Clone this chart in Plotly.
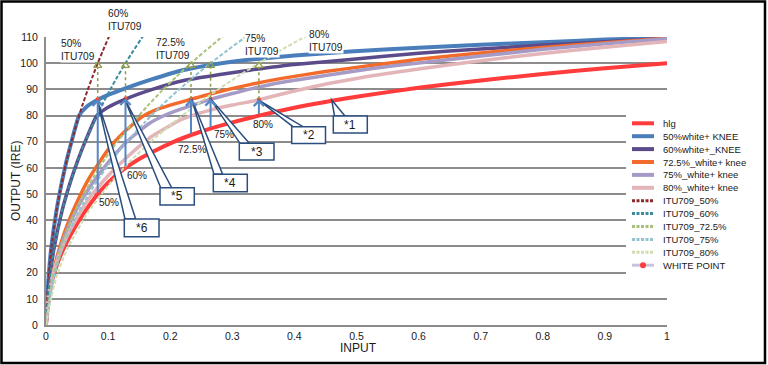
import plotly.graph_objects as go

# ---------------- data ----------------
hlg_x = [0, 0.001, 0.003, 0.005, 0.01, 0.02, 0.03, 0.04, 0.06, 0.0833, 0.1, 0.12, 0.15, 0.2, 0.25,
         0.3, 0.4, 0.5, 0.6, 0.7, 0.8, 0.9, 1.0]
hlg_y = [0, 5.5, 9.5, 12.2, 17.3, 24.5, 30.0, 34.6, 42.4, 50.0, 54.4, 58.6, 63.4, 69.4, 73.9,
         77.4, 83.0, 87.2, 90.6, 93.4, 95.9, 98.1, 100.0]

k50_x = [0, 0.0004, 0.0015, 0.0042, 0.0083, 0.0167, 0.025, 0.0333, 0.0417, 0.0533, 0.065, 0.0833,
         0.1, 0.13, 0.17, 0.22, 0.28, 0.33, 0.4, 0.49, 0.6, 0.7, 0.8, 0.9, 1.0]
k50_y = [0, 2.3, 8.1, 18.6, 29.1, 43.4, 54.0, 62.9, 70.6, 80.0, 83.3, 86.0,
         87.9, 90.6, 93.8, 97.3, 99.9, 101.4, 102.9, 104.5, 105.9, 107.0, 108.0, 109.0, 109.8]

k60_x = [0, 0.0006, 0.0023, 0.0064, 0.0128, 0.0256, 0.0384, 0.0512, 0.064, 0.0819, 0.1, 0.128,
         0.17, 0.22, 0.28, 0.33, 0.4, 0.49, 0.6, 0.7, 0.8, 0.9, 1.0]
k60_y = [0, 2.3, 8.1, 18.6, 29.1, 43.4, 54.0, 62.9, 70.6, 80.0, 83.2, 86.3,
         89.9, 93.3, 95.7, 97.4, 99.5, 101.4, 103.8, 105.4, 106.9, 108.2, 109.5]

k725_x = [0, 0.002, 0.006, 0.015, 0.03, 0.05, 0.07, 0.1, 0.125, 0.155, 0.175, 0.2, 0.2335,
          0.275, 0.33, 0.38, 0.45, 0.52, 0.6, 0.7, 0.8, 0.9, 1.0]
k725_y = [0, 4.5, 12.5, 23.5, 35.5, 47.0, 56.3, 67.0, 73.5, 79.6, 82.0, 84.0, 86.2,
          88.9, 91.9, 94.2, 96.8, 99.0, 101.5, 103.9, 106.0, 107.8, 109.5]

k75_x = [0, 0.002, 0.006, 0.015, 0.03, 0.05, 0.07, 0.1, 0.13, 0.165, 0.195, 0.23, 0.265,
         0.3, 0.33, 0.38, 0.45, 0.52, 0.6, 0.7, 0.8, 0.9, 1.0]
k75_y = [0, 4.0, 11.5, 22.5, 34.0, 44.5, 52.5, 62.0, 70.0, 76.8, 80.5, 83.5, 86.2,
         88.4, 90.2, 92.7, 95.3, 97.8, 100.1, 102.7, 105.3, 107.4, 109.3]

k80_x = [0, 0.002, 0.006, 0.015, 0.03, 0.05, 0.07, 0.1, 0.13, 0.17, 0.2194, 0.26, 0.3, 0.3428,
         0.4, 0.457, 0.52, 0.6, 0.7, 0.8, 0.9, 1.0]
k80_y = [0, 8.3, 14.0, 22.5, 32.0, 41.0, 48.5, 57.0, 64.0, 72.0, 78.6, 81.8, 84.0, 86.0,
         89.4, 92.3, 95.0, 97.8, 100.9, 103.7, 106.1, 108.3]

itu_y = [0, 2.3, 8.1, 18.6, 29.1, 43.4, 54.0, 62.9, 70.6, 77.4, 83.7, 89.5, 94.9, 100, 104.8, 109.4, 115.0]
itu50_x = [0, 0.0004, 0.0015, 0.0042, 0.0083, 0.0167, 0.025, 0.0333, 0.0417, 0.05, 0.0583, 0.0667,
           0.075, 0.0833, 0.0917, 0.1, 0.1108]
itu60_x = [0, 0.0006, 0.0023, 0.0064, 0.0128, 0.0256, 0.0384, 0.0512, 0.064, 0.0768, 0.0896, 0.1024,
           0.1152, 0.128, 0.1408, 0.1536, 0.1702]
itu725_x = [0, 0.0012, 0.0042, 0.0117, 0.0234, 0.0467, 0.0701, 0.0934, 0.1168, 0.1401, 0.1635, 0.1868,
            0.2102, 0.2335, 0.2569, 0.2802, 0.3106]
itu75_x = [0, 0.0013, 0.0048, 0.0133, 0.0265, 0.053, 0.0795, 0.106, 0.1325, 0.159, 0.1855, 0.212,
           0.2385, 0.265, 0.2915, 0.318, 0.3525]
itu80_x = [0, 0.0017, 0.0062, 0.0171, 0.0343, 0.0686, 0.1028, 0.1371, 0.1714, 0.2057, 0.24, 0.2742,
           0.3085, 0.3428, 0.3771, 0.4114, 0.4559]

# white points
wp_labels = ["50%", "60%", "72.5%", "75%", "80%"]
wp_x = [0.0833, 0.128, 0.2335, 0.265, 0.3428]
wp_hlg = [50, 60, 72.5, 75, 80]
wp_knee = [86.3, 86.6, 86.3, 86.4, 86.2]
wp_itu = [100, 100, 100, 100, 100]

series_names = ["hlg", "50%white+ KNEE", "60%white+_KNEE", "72.5%_white+ knee", "75%_white+ knee",
                "80%_white+ knee", "ITU709_50%", "ITU709_60%", "ITU709_72.5%", "ITU709_75%",
                "ITU709_80%"]
series_x = [hlg_x, k50_x, k60_x, k725_x, k75_x, k80_x, itu50_x, itu60_x, itu725_x, itu75_x, itu80_x]
series_y = [hlg_y, k50_y, k60_y, k725_y, k75_y, k80_y, itu_y, itu_y, itu_y, itu_y, itu_y]
white_point_name = "WHITE POINT"

x_ticks = [0, 0.1, 0.2, 0.3, 0.4, 0.5, 0.6, 0.7, 0.8, 0.9, 1]
x_tick_labels = ["0", "0.1", "0.2", "0.3", "0.4", "0.5", "0.6", "0.7", "0.8", "0.9", "1"]
y_ticks = [0, 10, 20, 30, 40, 50, 60, 70, 80, 90, 100, 110]

callout_labels = ["*1", "*2", "*3", "*4", "*5", "*6"]

# ---------------- styles ----------------
colors = ["#FF3B3B", "#4A7EBB", "#5B4B8A", "#F26B2A", "#A69AC6", "#E3B5B8",
          "#8C2B2E", "#3B8C9E", "#A9C27A", "#8FC4D0", "#CFDDB0"]
widths = [4, 4, 3.5, 3.5, 3.5, 3.5, 2, 2, 2, 2, 2]
dashes = ["solid"] * 6 + ["4px,2px"] * 5
wp_line_color = "#C9C3DD"
wp_dot_color = "#FF3B3B"
arrow_blue = "#5587C2"
olive = "#8E9C45"
navy = "#2B4E7E"
grid = "#8C8C8C"
FONT = "Liberation Sans, Arial, Helvetica, sans-serif"

# plot-area pixel geometry (for layout helpers)
L, W, B, H = 46, 621, 325, 288


def pxx(px):
    return (px - L) / W


def pxy(py):
    return (B - py) / H


def dx(px):  # data x from pixel
    return (px - L) / W


def dy(py):  # data y from pixel
    return (B - py) * 110 / H


fig = go.Figure()
for name, xs, ys, c, w, d in zip(series_names, series_x, series_y, colors, widths, dashes):
    fig.add_trace(go.Scatter(x=xs, y=ys, mode="lines", name=name, showlegend=False,
                             line=dict(color=c, width=w, dash=d, shape="spline", smoothing=0.5),
                             hoverinfo="skip"))

# white point markers
fig.add_trace(go.Scatter(x=wp_x, y=wp_knee, mode="markers", name=white_point_name, showlegend=False,
                         marker=dict(color=wp_dot_color, size=4), hoverinfo="skip"))
# open triangle heads of the dotted arrows
fig.add_trace(go.Scatter(x=wp_x, y=[v - 0.9 for v in wp_itu], mode="markers", showlegend=False,
                         marker=dict(symbol="triangle-up-open", size=7, color=olive,
                                     line=dict(width=1.3, color=olive)), hoverinfo="skip"))

shapes = []
annotations = []

# dotted olive arrows (knee -> ITU709 100%)
for x, y0, y1 in zip(wp_x, wp_knee, wp_itu):
    shapes.append(dict(type="line", xref="x", yref="y", x0=x, x1=x, y0=y0, y1=y1 - 1.5,
                       line=dict(color=olive, width=1.5, dash="dot"), layer="above"))

# blue arrows (hlg level -> knee curve)
for x, y0, y1 in zip(wp_x, wp_hlg, wp_knee):
    annotations.append(dict(x=x, y=y1, ax=x, ay=y0, xref="x", yref="y", axref="x", ayref="y",
                            text="", showarrow=True, arrowhead=4, arrowsize=1, arrowwidth=2,
                            arrowcolor=arrow_blue))

# percent labels near arrows
pct_pos = [(109.3, 202.3), (136.7, 175), (191.7, 149.3), (224, 134), (262.7, 124.3)]
for lab, (px, py) in zip(wp_labels, pct_pos):
    annotations.append(dict(x=dx(px), y=dy(py), xref="x", yref="y", text=lab, showarrow=False,
                            xanchor="center", yanchor="middle",
                            font=dict(size=10, family=FONT, color="#1a1a1a")))

# ITU709 labels
itu_label_pos = [(60, 50), (107, 20), (155, 49), (244, 45), (307.5, 41)]
for lab, (px, py) in zip(wp_labels, itu_label_pos):
    annotations.append(dict(x=pxx(px), y=pxy(py), xref="paper", yref="paper",
                            text=lab + "<br>ITU709", showarrow=False, align="left",
                            xanchor="left", yanchor="middle", bgcolor="white", borderpad=0,
                            font=dict(size=10.2, family=FONT, color="#1a1a1a")))

# callouts: box (x0, x1, top, bottom) in px, tip in px, base span in px
callouts = [
    ((333.3, 367.3, 116, 133), (331.7, 100), (334.5, 345)),
    ((291.7, 325.5, 126.7, 143.5), (258.3, 100), (293, 303)),
    ((239.3, 274, 143.3, 160), (210, 98.3), (240, 249.3)),
    ((213.3, 247.3, 174.3, 191.7), (191.7, 99), (214, 222.7)),
    ((160, 194.3, 187.7, 205), (124.3, 98.3), (160.7, 171.7)),
    ((124.3, 159, 219, 236.7), (97.3, 100), (125, 135.7)),
]
for lab, (bx, tip, base) in zip(callout_labels, callouts):
    x0, x1, top, bot = bx
    path = "M {:.4f},{:.3f} L {:.4f},{:.3f} L {:.4f},{:.3f} Z".format(
        dx(tip[0]), dy(tip[1]), dx(base[0]), dy(top), dx(base[1]), dy(top))
    shapes.append(dict(type="path", xref="x", yref="y", path=path, fillcolor="white",
                       line=dict(color=navy, width=1.5), layer="above"))
    shapes.append(dict(type="rect", xref="x", yref="y", x0=dx(x0), x1=dx(x1), y0=dy(bot), y1=dy(top),
                       fillcolor="white", line=dict(color=navy, width=1.5), layer="above"))
    annotations.append(dict(x=dx((x0 + x1) / 2), y=dy((top + bot) / 2), xref="x", yref="y",
                            text=lab, showarrow=False, xanchor="center", yanchor="middle",
                            font=dict(size=12, family=FONT, color="#1a1a1a")))

# manual legend (compact rows, like the original)
shapes.append(dict(type="rect", xref="paper", yref="paper", x0=pxx(626), x1=pxx(763),
                   y0=pxy(283), y1=pxy(111), fillcolor="white", line=dict(width=0), layer="above"))
row0, step = 123.3, 12.9
for i, (name, c, w, d) in enumerate(zip(series_names, colors, widths, dashes)):
    py = row0 + i * step
    shapes.append(dict(type="line", xref="paper", yref="paper", x0=pxx(632), x1=pxx(654),
                       y0=pxy(py), y1=pxy(py),
                       line=dict(color=c, width=4 if i < 6 else 3, dash="solid" if i < 6 else "3px,1.5px"),
                       layer="above"))
    annotations.append(dict(x=pxx(661), y=pxy(py), xref="paper", yref="paper", text=name,
                            showarrow=False, xanchor="left", yanchor="middle",
                            font=dict(size=9.5, family=FONT, color="#1a1a1a")))
py = row0 + 11 * step
shapes.append(dict(type="line", xref="paper", yref="paper", x0=pxx(632), x1=pxx(654),
                   y0=pxy(py), y1=pxy(py), line=dict(color=wp_line_color, width=3), layer="above"))
shapes.append(dict(type="circle", xref="paper", yref="paper", x0=pxx(640), x1=pxx(646),
                   y0=pxy(py + 3), y1=pxy(py - 3), fillcolor=wp_dot_color,
                   line=dict(width=0), layer="above"))
annotations.append(dict(x=pxx(661), y=pxy(py), xref="paper", yref="paper", text=white_point_name,
                        showarrow=False, xanchor="left", yanchor="middle",
                        font=dict(size=9.5, family=FONT, color="#1a1a1a")))

# axis titles
annotations.append(dict(x=pxx(358), y=pxy(348), xref="paper", yref="paper", text="INPUT",
                        showarrow=False, xanchor="center", yanchor="middle",
                        font=dict(size=12, family=FONT, color="#1a1a1a")))
annotations.append(dict(x=pxx(16), y=pxy(181), xref="paper", yref="paper", text="OUTPUT (IRE)",
                        textangle=-90, showarrow=False, xanchor="center", yanchor="middle",
                        font=dict(size=12, family=FONT, color="#1a1a1a")))

# outer frame
shapes.append(dict(type="rect", xref="paper", yref="paper", x0=pxx(1.5), x1=pxx(765),
                   y0=pxy(363), y1=pxy(1.5), line=dict(color="black", width=2.5),
                   fillcolor="rgba(0,0,0,0)", layer="above"))

fig.update_layout(
    width=768, height=365,
    margin=dict(l=L, r=768 - L - W, t=B - H, b=365 - B),
    paper_bgcolor="white", plot_bgcolor="white", showlegend=False,
    font=dict(family=FONT, color="#1a1a1a"),
    shapes=shapes, annotations=annotations,
)
fig.update_xaxes(range=[0, 1], tickmode="array", tickvals=x_ticks, ticktext=x_tick_labels,
                 showgrid=False, zeroline=False, showline=True, linecolor=grid, linewidth=2,
                 ticks="", tickfont=dict(size=10.5, family=FONT, color="#1a1a1a"))
fig.update_yaxes(range=[0, 110], tickmode="array", tickvals=y_ticks, showgrid=True,
                 gridcolor=grid, gridwidth=2, zeroline=False, showline=True, linecolor=grid,
                 linewidth=2, ticks="", ticklabelstandoff=4,
                 tickfont=dict(size=10.5, family=FONT, color="#1a1a1a"))

fig.write_html(
    "out.html",
    config={"displayModeBar": False},
    post_script="document.body.style.margin='0px';document.body.style.overflow='hidden';"
                "document.documentElement.style.overflow='hidden';",
)
